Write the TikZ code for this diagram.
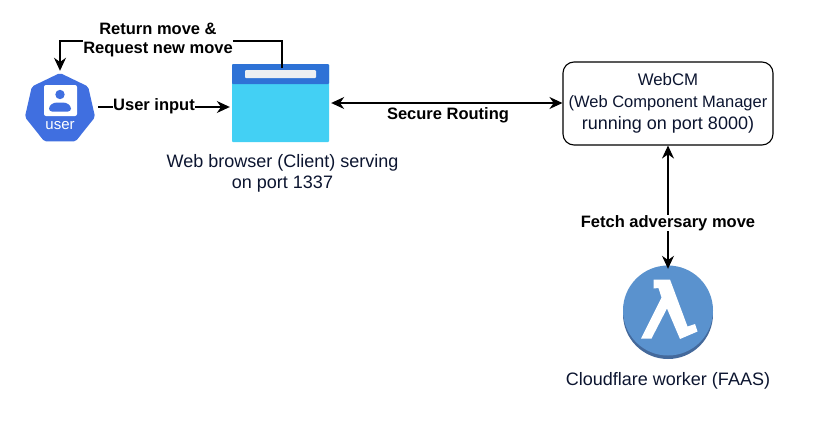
\documentclass[tikz,border=0pt]{standalone}
\usepackage{fontspec}
\setmainfont{Liberation Sans}
\usetikzlibrary{arrows.meta,shapes.geometric}
\definecolor{kubeblue}{HTML}{406FE0}
\definecolor{barblue}{HTML}{2E72D6}
\definecolor{paneblue}{HTML}{43D0F4}
\definecolor{barwhite}{HTML}{EDEFF2}
\definecolor{lambdablue}{HTML}{5A92CE}
\definecolor{lambdadark}{HTML}{44699B}
\definecolor{captionink}{HTML}{0C1530}
\tikzset{
  flow/.style = {line width=1.1pt, -{Stealth[length=13pt,width=12pt]}},
  bothflow/.style = {line width=1.1pt, {Stealth[length=13pt,width=12pt]}-{Stealth[length=13pt,width=12pt]}},
  flowlabel/.style = {font=\fontsize{16.5}{19}\selectfont\bfseries, fill=white, inner sep=0pt, align=center},
  caption/.style = {font=\fontsize{18}{21}\selectfont, text=captionink, align=center, inner sep=0pt}
}
\begin{document}
\begin{tikzpicture}[x=1pt, y=-1pt]
    \useasboundingbox[fill=white] (0,0) rectangle (815,426);

    % user badge
    \node[regular polygon, regular polygon sides=7, fill=kubeblue, rounded corners=2pt,
          minimum size=72pt, inner sep=0pt] (user) at (60,109) {};
    \fill[white, rounded corners=2pt] (44,85) rectangle (77,116);
    \fill[kubeblue] (60,94.5) circle (4.7);
    \fill[kubeblue, rounded corners=3pt] (49,111.5) -- (49,106) -- (54,102.5) -- (66,102.5) -- (71,106) -- (71,111.5) -- cycle;
    \node[font=\fontsize{15}{16}\selectfont, text=white, inner sep=0pt] (userlabel) at (60,125.5) {user};

    % browser window
    \node[fill=paneblue, rounded corners=1pt, minimum width=97pt, minimum height=78pt, inner sep=0pt] (browser) at (280.5,103) {};
    \fill[barblue, rounded corners=1pt] (232,64) rectangle (329,84);
    \node[fill=barwhite, rounded corners=1pt, minimum width=71pt, minimum height=8pt, inner sep=0pt] (addressbar) at (280.5,74) {};
    \node[caption] (browsertext) at (282.5,173) {Web browser (Client) serving\\on port 1337};

    % web component manager
    \node[draw, line width=1.1pt, rounded corners=11pt, minimum width=210pt, minimum height=83pt, inner sep=0pt,
          text=captionink, align=center, font=\fontsize{16.8}{22}\selectfont] (webcm) at (668,103.5)
          {WebCM\\\fontsize{16.5}{22}\selectfont(Web Component Manager\\\fontsize{18}{22}\selectfont running on port 8000)};

    % lambda
    \node[circle, fill=lambdadark, minimum size=90pt, inner sep=0pt] (worker) at (668,314) {};
    \fill[lambdablue] (668,310.5) circle (45);
    \fill[white] (653.5,279.5) -- (670,279.5) -- (687.5,326.5) -- (695,324) -- (697.5,331.5) -- (680,339) -- (667,308.5) -- (651.5,338.5) -- (641,338.5) -- (661.5,297.5) -- (658.5,288) -- (653.5,288.5) -- cycle;
    \node[caption] (workertext) at (668,381) {Cloudflare worker (FAAS)};

    % connectors
    \coordinate (barstart) at (282,68);
    \coordinate (turn) at (60,41);
    \draw[flow, shorten >=2pt] (barstart) |- (turn) -- (user.north);
    \node[flowlabel] (returnlabel) at (158,40) {Return move \&\\Request new move};

    \coordinate (inputstart) at (98,107);
    \draw[flow, shorten >=2pt] (inputstart) -- (browser.west |- inputstart);
    \node[flowlabel] (inputlabel) at (154,106) {User input};

    \coordinate (routingstart) at (browser.east |- 0,103);
    \draw[bothflow, shorten <=2pt] (routingstart) -- (webcm.west |- routingstart);
    \node[flowlabel, fill=none] (routinglabel) at (448,115) {Secure Routing};

    \draw[bothflow] (webcm.south) -- (worker.north);
    \node[flowlabel] (fetchlabel) at (668,223) {Fetch adversary move};
\end{tikzpicture}
\end{document}
